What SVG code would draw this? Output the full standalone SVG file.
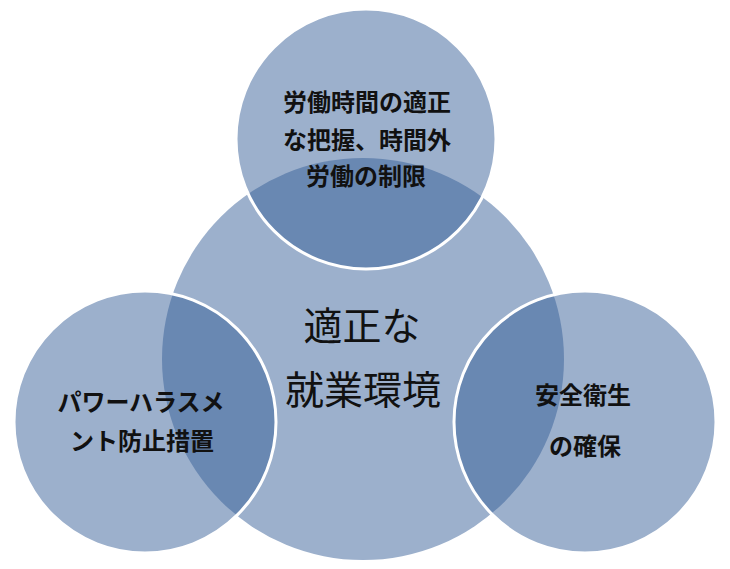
<svg xmlns="http://www.w3.org/2000/svg" width="730" height="569" viewBox="0 0 730 569">
  <style>
    .hub { fill: #9cb0cc; }
    .sat { fill: #355e97; fill-opacity: 0.49; stroke: #ffffff; stroke-width: 3; }
    .t { font-family: "Noto Sans CJK JP", "Noto Sans", sans-serif; fill: #111111; text-anchor: middle; }
    .small { font-size: 24px; font-weight: bold; }
    .big { font-size: 39px; font-weight: normal; }
  </style>
  <rect width="730" height="569" fill="#ffffff"/>
  <g id="center">
    <circle class="hub" cx="363" cy="359" r="201"/>
  </g>
  <g id="top">
    <circle class="sat" cx="366" cy="139" r="130"/>
  </g>
  <g id="left">
    <circle class="sat" cx="145" cy="422" r="131"/>
  </g>
  <g id="right">
    <circle class="sat" cx="585" cy="422" r="131"/>
  </g>
  <g id="connectors"/>
  <g id="labels">
    <text class="t small" x="367" y="111">労働時間の適正</text>
    <text class="t small" x="367" y="149">な把握、時間外</text>
    <text class="t small" x="366" y="185">労働の制限</text>
    <text class="t big" x="362" y="340">適正な</text>
    <text class="t big" x="363" y="404">就業環境</text>
    <text class="t small" x="141" y="411">パワーハラスメ</text>
    <text class="t small" x="142" y="450">ント防止措置</text>
    <text class="t small" x="583" y="404">安全衛生</text>
    <text class="t small" x="585" y="455">の確保</text>
  </g>
</svg>
